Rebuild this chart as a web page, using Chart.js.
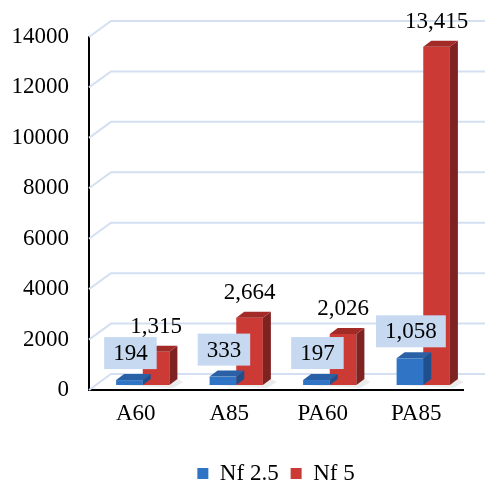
<!DOCTYPE html>
<html>
<head>
<meta charset="utf-8">
<script src="https://cdn.jsdelivr.net/npm/chart.js@4.4.1/dist/chart.umd.min.js"></script>
<style>
  html, body { margin: 0; padding: 0; background: #ffffff; }
  #wrap { width: 487px; height: 481px; }
</style>
</head>
<body>
<div id="wrap"><canvas id="c" width="487" height="481"></canvas></div>
<script>
// Fatigue life per mix
const categories = ['A60', 'A85', 'PA60', 'PA85'];
const nf25 = [194, 333, 197, 1058];
const nf5 = [1315, 2664, 2026, 13415];
const seriesNames = ['Nf 2.5', 'Nf 5'];
const yTicks = [0, 2000, 4000, 6000, 8000, 10000, 12000, 14000];

const SERIF = "'Times New Roman', 'Liberation Serif', serif";

// 3D look: faces for each bar and a back wall for the grid
const faces = [
  { front: '#2f74c5', side: '#1f4f8d', top: '#2a61a6' },
  { front: '#cc3a36', side: '#7e2222', top: '#a22b28' }
];
const depth = { dx: 8, dy: 6 };        // bar thickness
const wall = { dx: 22, dy: 16 };       // distance to back wall
const shift = { dx: 7, dy: -5 };       // bars sit mid-depth

const threeD = {
  id: 'threeD',
  beforeDatasetsDraw(chart) {
    const { ctx, chartArea: a, scales: { y } } = chart;
    ctx.save();
    ctx.strokeStyle = '#d4e0f1';
    ctx.lineWidth = 2;
    yTicks.forEach(v => {
      const py = y.getPixelForValue(v);
      ctx.beginPath();
      ctx.moveTo(a.left, py);
      ctx.lineTo(a.left + wall.dx, py - wall.dy);
      ctx.lineTo(a.right + wall.dx, py - wall.dy);
      ctx.stroke();
    });
    ctx.restore();
    ctx.save();
    ctx.translate(shift.dx, shift.dy);
    // soft floor shadows behind each bar pair
    const m = chart.getDatasetMeta(1);
    ctx.fillStyle = 'rgba(0,0,0,0.08)';
    m.data.forEach(bar => {
      const { x, base, width } = bar.getProps(['x', 'base', 'width'], true);
      const r = x + width / 2;
      ctx.beginPath();
      ctx.moveTo(r - 2 * width, base);
      ctx.lineTo(r + 4, base + 3);
      ctx.lineTo(r + depth.dx + 6, base - depth.dy + 3);
      ctx.lineTo(r + depth.dx, base - depth.dy);
      ctx.closePath();
      ctx.fill();
    });
  },
  afterDatasetDraw(chart, args) {
    const { ctx } = chart;
    const f = faces[args.index];
    args.meta.data.forEach(bar => {
      const { x, y, base, width } = bar.getProps(['x', 'y', 'base', 'width'], true);
      const l = x - width / 2, r = x + width / 2;
      // side face
      ctx.fillStyle = f.side;
      ctx.beginPath();
      ctx.moveTo(r, base);
      ctx.lineTo(r, y);
      ctx.lineTo(r + depth.dx, y - depth.dy);
      ctx.lineTo(r + depth.dx, base - depth.dy);
      ctx.closePath();
      ctx.fill();
      // top face
      ctx.fillStyle = f.top;
      ctx.beginPath();
      ctx.moveTo(l, y);
      ctx.lineTo(r, y);
      ctx.lineTo(r + depth.dx, y - depth.dy);
      ctx.lineTo(l + depth.dx, y - depth.dy);
      ctx.closePath();
      ctx.fill();
    });
  },
  afterDatasetsDraw(chart) {
    const { ctx } = chart;
    ctx.font = '23px ' + SERIF;
    ctx.textAlign = 'center';
    ctx.textBaseline = 'middle';
    const fmt = v => v.toLocaleString('en-US');
    // Nf 5 values: plain text above the bar
    chart.getDatasetMeta(1).data.forEach((bar, i) => {
      ctx.fillStyle = '#000';
      ctx.fillText(fmt(nf5[i]), bar.x, bar.y - 25);
    });
    // Nf 2.5 values: text on a light blue box
    chart.getDatasetMeta(0).data.forEach((bar, i) => {
      const txt = fmt(nf25[i]);
      const w = ctx.measureText(txt).width + 18;
      const h = 32;
      const cx = bar.x + 1, cy = bar.y - 27;
      ctx.fillStyle = '#c6d9f0';
      ctx.fillRect(cx - w / 2, cy - h / 2, w, h);
      ctx.fillStyle = '#000';
      ctx.fillText(txt, cx, cy + 1);
    });
    ctx.restore();
  }
};

new Chart(document.getElementById('c'), {
  type: 'bar',
  data: {
    labels: categories,
    datasets: [
      { label: seriesNames[0], data: nf25, backgroundColor: faces[0].front, borderWidth: 0 },
      { label: seriesNames[1], data: nf5, backgroundColor: faces[1].front, borderWidth: 0 }
    ]
  },
  options: {
    responsive: false,
    animation: false,
    events: [],
    layout: { padding: { top: 37, right: 24, left: 0, bottom: 0 } },
    datasets: { bar: { categoryPercentage: 0.57, barPercentage: 1.0 } },
    scales: {
      x: {
        grid: { display: false, drawTicks: false },
        border: { display: true, color: '#000', width: 2 },
        ticks: { color: '#000', font: { family: SERIF, size: 23 }, padding: 10 },
        afterFit(s) { s.height = 60; }
      },
      y: {
        min: 0, max: 14000,
        grid: { display: false, drawTicks: false },
        border: { display: true, color: '#000', width: 2 },
        ticks: {
          stepSize: 2000, color: '#000', padding: 20,
          font: { family: SERIF, size: 23 },
          callback: v => String(v)
        },
        afterFit(s) { s.width = 89; }
      }
    },
    plugins: {
      legend: {
        position: 'bottom',
        fullSize: false,
        maxHeight: 31,
        labels: {
          color: '#000', boxWidth: 11, boxHeight: 11, padding: 12,
          font: { family: SERIF, size: 23 }
        }
      },
      tooltip: { enabled: false }
    }
  },
  plugins: [threeD]
});
</script>
</body>
</html>
